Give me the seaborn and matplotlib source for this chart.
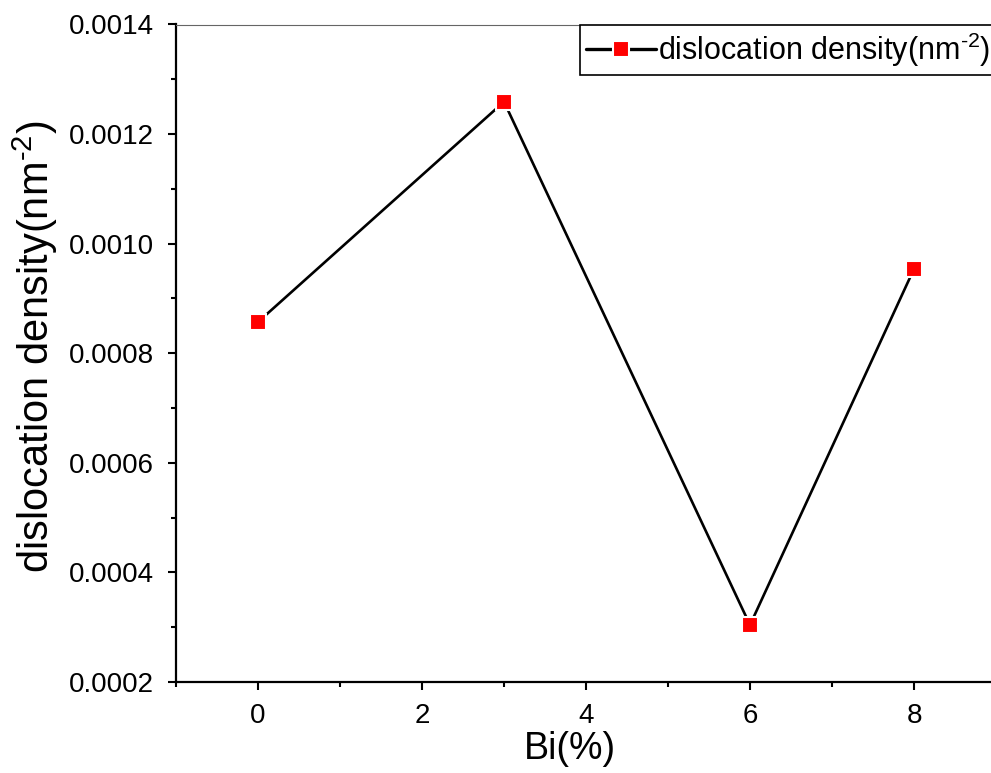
import matplotlib
matplotlib.use("Agg")
import matplotlib.pyplot as plt
from matplotlib.ticker import MultipleLocator
import pandas as pd
import seaborn as sns

# Bi doping level (%) and measured dislocation density (nm^-2)
bi_percent = [0, 3, 6, 8]
dislocation_density = [0.000857, 0.001259, 0.000304, 0.000954]
series_label = r"dislocation density(nm$^{\text{-}2}$)"
x_label = "Bi(%)"
y_label = r"dislocation density(nm$^{\text{-}2}$)"
y_ticks = [0.0002, 0.0004, 0.0006, 0.0008, 0.0010, 0.0012, 0.0014]
x_ticks = [0, 2, 4, 6, 8]

df = pd.DataFrame({"Bi": bi_percent, "density": dislocation_density})

sns.set_theme(style="ticks")
plt.rcParams["font.family"] = ["Liberation Sans", "DejaVu Sans"]
plt.rcParams["mathtext.fontset"] = "custom"
plt.rcParams["mathtext.rm"] = "Liberation Sans"
plt.rcParams["mathtext.it"] = "Liberation Sans:italic"
for key in ("text.color", "axes.labelcolor", "xtick.color", "ytick.color",
            "axes.edgecolor"):
    plt.rcParams[key] = "black"

fig = plt.figure(figsize=(9.91, 7.73), dpi=100)
ax_left, ax_right, ax_top, ax_bottom = 176, 1037, 24.5, 682
ax = fig.add_axes([ax_left / 991, 1 - ax_bottom / 773,
                   (ax_right - ax_left) / 991, (ax_bottom - ax_top) / 773])

sns.lineplot(
    data=df, x="Bi", y="density", ax=ax,
    color="black", linewidth=1.9,
    marker="s", markersize=11.5, markerfacecolor="red",
    markeredgecolor="white", markeredgewidth=1.5,
    label=series_label,
)

ax.set_xlim(-1, 9.5)
ax.set_ylim(0.0002, 0.0014)
ax.set_xticks(x_ticks)
ax.set_yticks(y_ticks)
ax.set_yticklabels([f"{v:.4f}" for v in y_ticks])
ax.xaxis.set_minor_locator(MultipleLocator(1))
ax.yaxis.set_minor_locator(MultipleLocator(0.0001))

ax.tick_params(axis="both", which="major", direction="out", length=6,
               width=1.5, labelsize=20, color="black", labelcolor="black")
ax.tick_params(axis="x", which="major", pad=9)
ax.tick_params(axis="y", which="major", pad=10)
ax.tick_params(axis="both", which="minor", direction="out", length=3.5,
               width=1.5, color="black")

for side in ("left", "bottom"):
    ax.spines[side].set_linewidth(1.6)
    ax.spines[side].set_color("black")
ax.spines["top"].set_visible(True)
ax.spines["top"].set_linewidth(0.8)
ax.spines["top"].set_color("#666666")
ax.spines["right"].set_visible(True)
ax.spines["right"].set_linewidth(1.6)

ax.set_xlabel(x_label, fontsize=27, color="black")
ax.set_ylabel(y_label, fontsize=30, color="black")
width_px = ax_right - ax_left
height_px = ax_bottom - ax_top
ax.xaxis.set_label_coords((570 - ax_left) / width_px, -(731 - ax_bottom) / height_px)
ax.yaxis.set_label_coords(-(ax_left - 60) / width_px, (ax_bottom - 347) / height_px)

leg = ax.legend(
    loc="upper left", bbox_to_anchor=(580 / 991, 1 - 24.5 / 773),
    bbox_transform=fig.transFigure, borderaxespad=0,
    fontsize=22, frameon=True, fancybox=False, framealpha=1,
    handlelength=2.3, handletextpad=0.05, borderpad=0.2,
)
leg.get_frame().set_edgecolor("black")
leg.get_frame().set_linewidth(1.2)
for line in leg.get_lines():
    line.set_linewidth(2.4)
for text in leg.get_texts():
    text.set_color("black")

fig.savefig("out.png", dpi=100)
